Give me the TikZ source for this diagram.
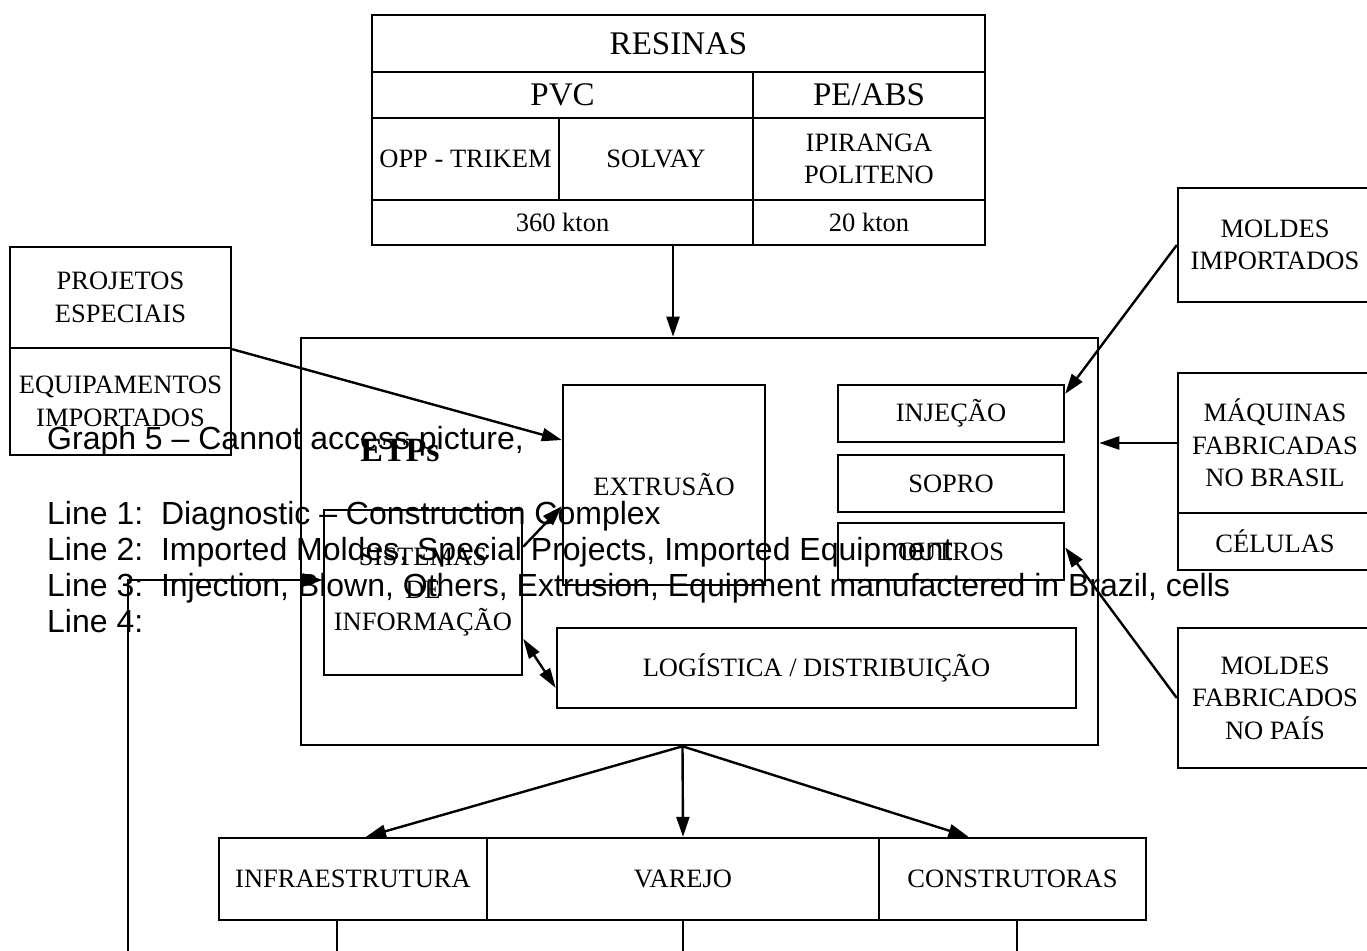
\documentclass[tikz,border=0pt]{standalone}
\usepackage{fontspec}
\setmainfont{Liberation Serif}
\newfontfamily\arialf{Liberation Sans}
\usetikzlibrary{arrows.meta,calc}
\begin{document}
\begin{tikzpicture}[x=1pt,y=-1pt,
  box/.style={draw, line width=2.4pt, inner sep=0pt, align=center, font=\fontsize{26.5}{32.5}\selectfont},
  big/.style={font=\fontsize{33}{38}\selectfont},
  arr/.style={line width=2.4pt, -{Triangle[length=20pt,width=13pt]}},
  darr/.style={line width=2.4pt, {Triangle[length=20pt,width=12pt]}-{Triangle[length=20pt,width=12pt]}},
  plain/.style={line width=2.4pt},
  ovl/.style={anchor=base west, inner sep=0pt, font=\arialf\fontsize{32}{36}\selectfont}
]
\useasboundingbox (0,0) rectangle (1367,950);
\fill[white] (0,0) rectangle (1367,950);

% RESINAS table
\node[box, big, minimum width=613pt, minimum height=57pt] (res) at (678.5,43.5) {RESINAS};
\node[box, big, minimum width=381pt, minimum height=46pt] (pvc) at (562.5,95) {PVC};
\node[box, big, minimum width=232pt, minimum height=46pt] (peabs) at (869,95) {PE/ABS};
\node[box, minimum width=187pt, minimum height=82pt] (opp) at (465.5,159) {OPP - TRIKEM};
\node[box, minimum width=194pt, minimum height=82pt] (solvay) at (656,159) {SOLVAY};
\node[box, minimum width=232pt, minimum height=82pt] (ipi) at (869,159) {IPIRANGA\\POLITENO};
\node[box, minimum width=381pt, minimum height=45pt] (k360) at (562.5,222.5) {360 kton};
\node[box, minimum width=232pt, minimum height=45pt] (k20) at (869,222.5) {20 kton};

% ETPs box
\node[box, line width=2.6pt, minimum width=797pt, minimum height=407pt] (etp) at (699.5,541.5) {};
\node[font=\bfseries\fontsize{34}{38}\selectfont, inner sep=0pt] (etplabel) at (400,451) {ETPs};

% left boxes
\node[box, minimum width=221pt, minimum height=101pt] (proj) at (120.5,297.5) {PROJETOS\\ESPECIAIS};
\node[box, minimum width=221pt, minimum height=107pt] (equip) at (120.5,401.5) {EQUIPAMENTOS\\IMPORTADOS};

% inner boxes
\node[box, minimum width=202pt, minimum height=200pt] (extr) at (664,485) {EXTRUS\~AO};
\node[box, minimum width=226pt, minimum height=57pt] (inj) at (951,413.5) {INJE\c{C}\~AO};
\node[box, minimum width=226pt, minimum height=57pt] (sopro) at (951,483.5) {SOPRO};
\node[box, minimum width=226pt, minimum height=57pt] (outros) at (951,551.5) {OUTROS};
\node[box, minimum width=519pt, minimum height=80pt] (log) at (816.5,668) {LOG\'ISTICA / DISTRIBUI\c{C}\~AO};
\node[box, minimum width=198pt, minimum height=165pt] (sis) at (423,592.5) {SISTEMAS\\DE\\INFORMA\c{C}\~AO};

% right boxes
\node[box, minimum width=194pt, minimum height=114pt] (mi) at (1275,245) {MOLDES\\IMPORTADOS};
\node[box, minimum width=194pt, minimum height=140pt] (maq) at (1275,443) {M\'AQUINAS\\FABRICADAS\\NO BRASIL};
\node[box, minimum width=194pt, minimum height=57pt] (cel) at (1275,541.5) {C\'ELULAS};
\node[box, minimum width=194pt, minimum height=140pt] (mf) at (1275,698) {MOLDES\\FABRICADOS\\NO PA\'IS};

% bottom table
\node[box, minimum width=268pt, minimum height=82pt] (infra) at (353,879) {INFRAESTRUTURA};
\node[box, minimum width=392pt, minimum height=82pt] (varejo) at (683,879) {VAREJO};
\node[box, minimum width=267pt, minimum height=82pt] (constr) at (1012.5,879) {CONSTRUTORAS};

% connectors
\coordinate (rs) at ($(k360.south)+(110.5,0)$);
\draw[arr] (rs) -- (rs |- etp.north);
\draw[arr] (proj.south east) -- ($(extr.west)+(0,-45)$);
\draw[arr] ($(sis.north east)+(0,38)$) -- ($(extr.south west)+(0,-80)$);
\draw[darr] ($(sis.north east)+(0,130)$) -- ($(log.west)+(0,20)$);
\coordinate (fb) at (128,955);
\draw[arr] (fb) |- ($(sis.west)+(0,-12.5)$);
\draw[arr] (mi.west) -- ($(inj.north east)+(0,10)$);
\draw[arr] (maq.west) -- (etp.east |- maq.west);
\draw[arr] (mf.west) -- ($(outros.east)+(0,-4)$);

\coordinate (split) at ($(etp.south)+(-17,0)$);
\draw[arr] (split) -- ($(infra.north)+(13,0)$);
\draw[arr] (split) -- (varejo.north);
\draw[arr] (split) -- ($(constr.north)+(-44,0)$);

\draw[plain] ($(infra.south)+(-16,0)$) -- ++(0,40);
\draw[plain] (varejo.south) -- ++(0,40);
\draw[plain] ($(constr.south)+(4.5,0)$) -- ++(0,40);

% overlay text
\node[ovl] (t0) at (47,449) {Graph 5 – Cannot access picture,};
\node[ovl] (t1) at (47,524) {Line 1:\ \ Diagnostic – Construction Complex};
\node[ovl] (t2) at (47,560) {Line 2:\ \ Imported Moldes, Special Projects, Imported Equipment};
\node[ovl] (t3) at (47,596) {Line 3:\ \ Injection, Blown, Others, Extrusion, Equipment manufactered in Brazil, cells};
\node[ovl] (t4) at (47,632) {Line 4:};
\end{tikzpicture}
\end{document}
